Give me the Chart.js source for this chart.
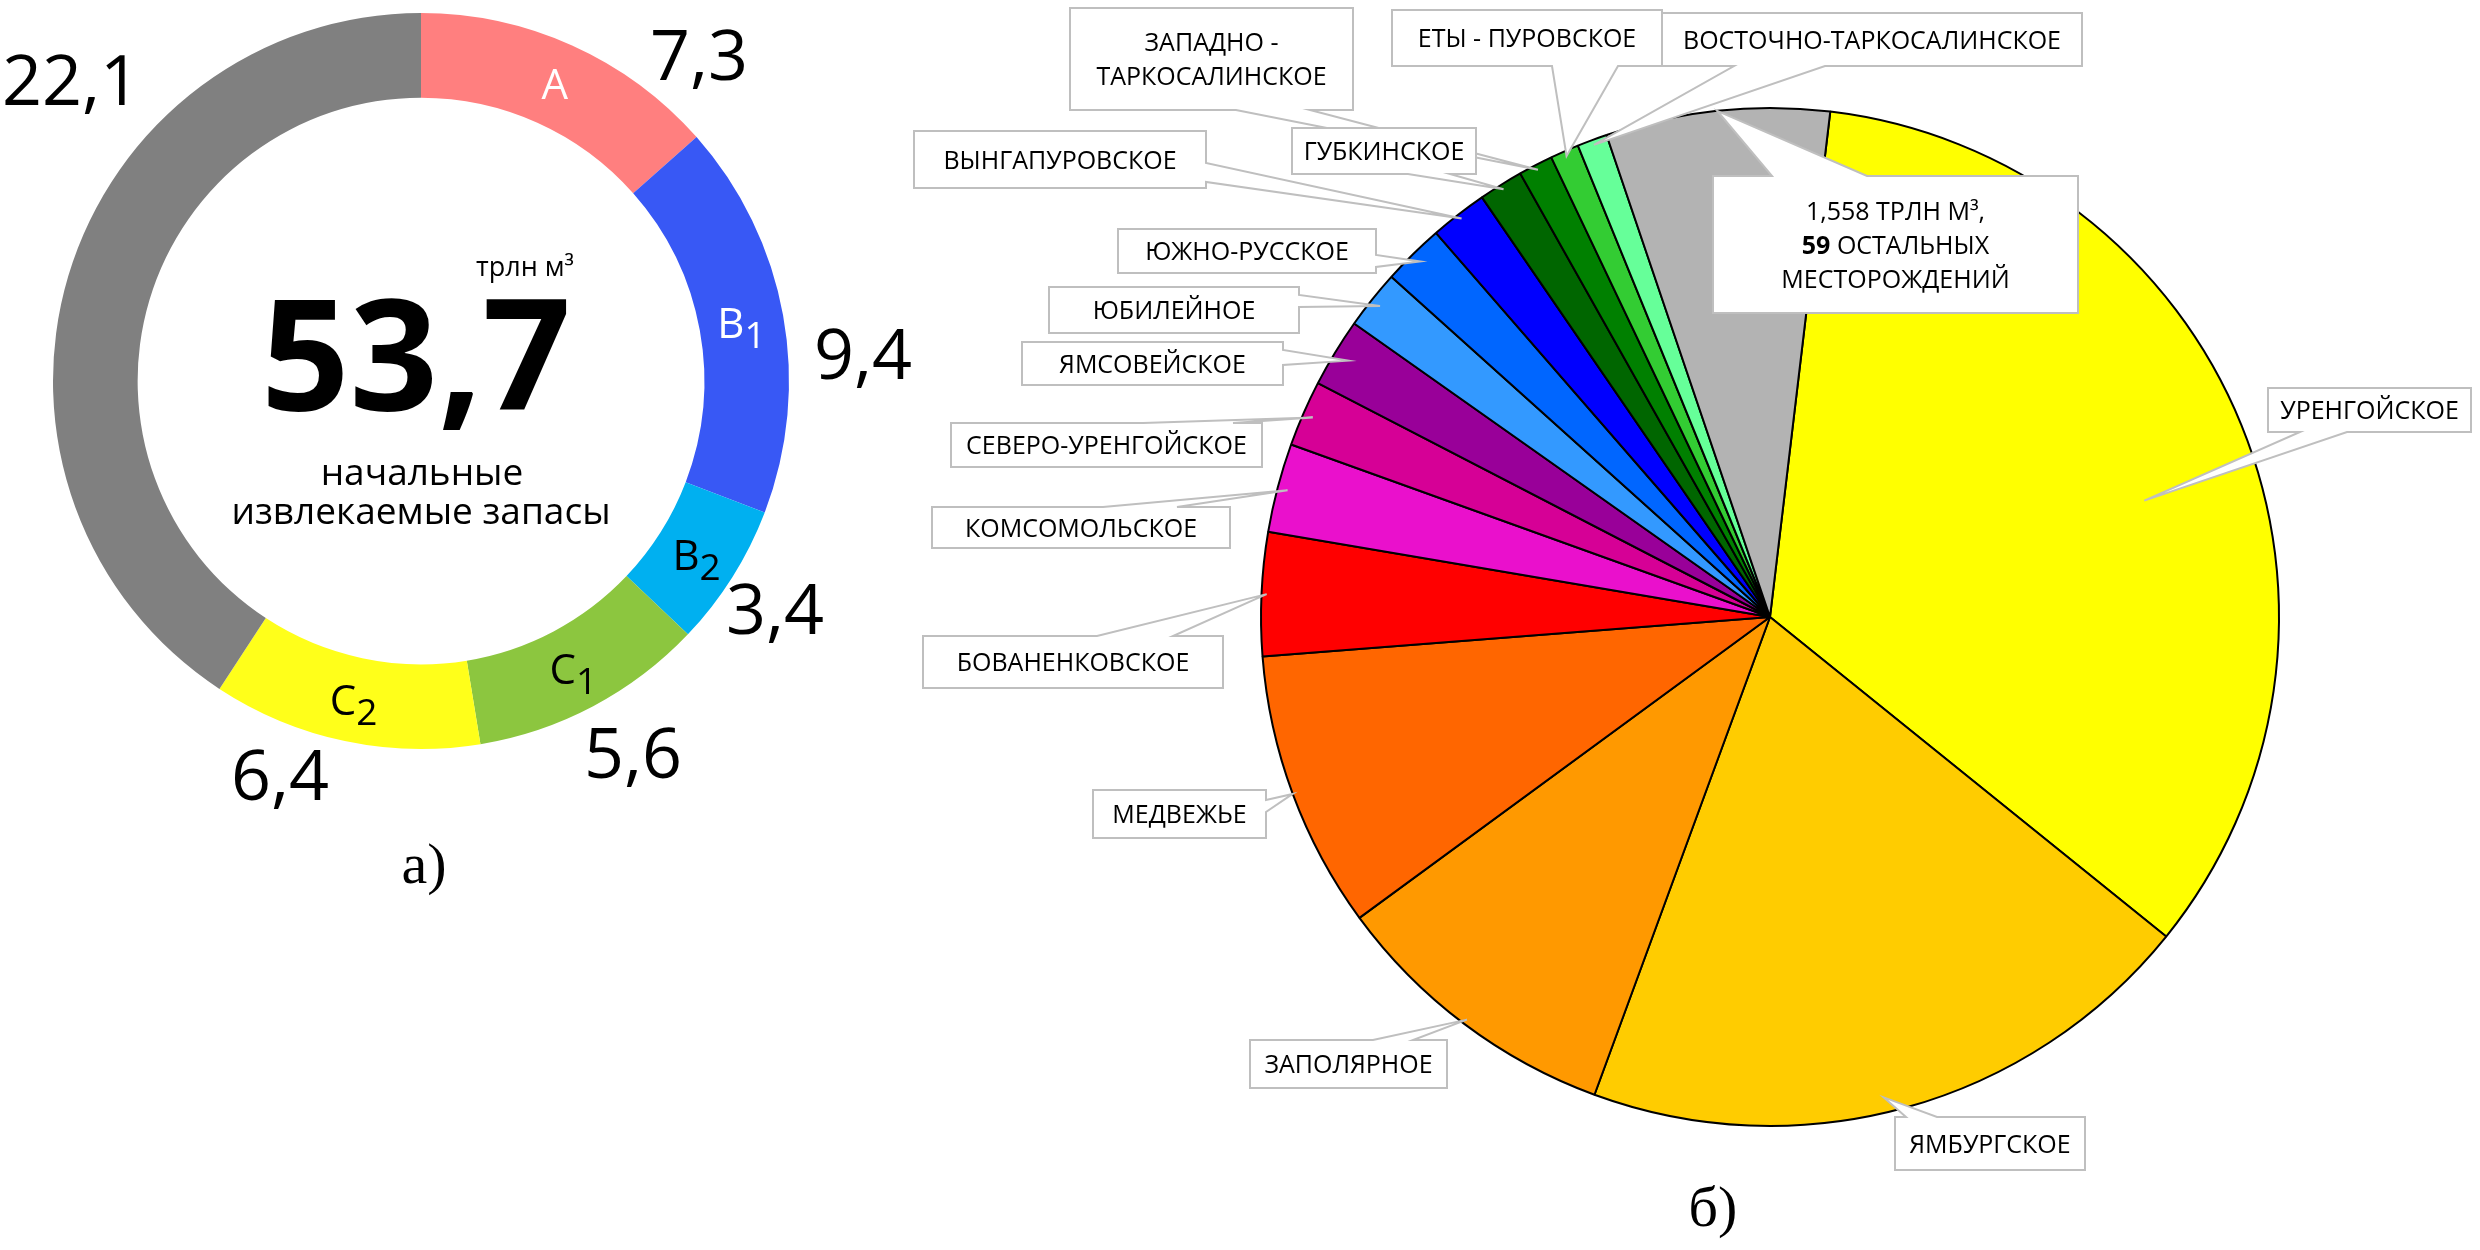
<!DOCTYPE html>
<html>
<head>
<meta charset="utf-8">
<script src="https://cdn.jsdelivr.net/npm/chart.js@4.4.0/dist/chart.umd.min.js"></script>
<style>
html, body { margin: 0; padding: 0; background: #fff; }
body { width: 2480px; height: 1250px; position: relative; overflow: hidden; }
#ring { position: absolute; left: 0; top: 0; }
#fields { position: absolute; left: 900px; top: 0; }
</style>
</head>
<body>
<canvas id="ring" width="1000" height="920"></canvas>
<canvas id="fields" width="1580" height="1250"></canvas>
<script>
// а) categories of initial recoverable reserves, трлн м³
const ringCats = ['A', 'B1', 'B2', 'C1', 'C2', ''];
const ringValues = [7.3, 9.4, 3.4, 5.6, 6.4, 22.1];
const ringTotal = '53,7';

// б) reserves by field, трлн м³
const fieldNames = [
    'УРЕНГОЙСКОЕ', 'ЯМБУРГСКОЕ', 'ЗАПОЛЯРНОЕ', 'МЕДВЕЖЬЕ', 'БОВАНЕНКОВСКОЕ',
    'КОМСОМОЛЬСКОЕ', 'СЕВЕРО-УРЕНГОЙСКОЕ', 'ЯМСОВЕЙСКОЕ', 'ЮБИЛЕЙНОЕ', 'ЮЖНО-РУССКОЕ',
    'ВЫНГАПУРОВСКОЕ', 'ГУБКИНСКОЕ', 'ЗАПАДНО -\nТАРКОСАЛИНСКОЕ', 'ЕТЫ - ПУРОВСКОЕ',
    'ВОСТОЧНО-ТАРКОСАЛИНСКОЕ', 'others'
];
const fieldValues = [7.45, 4.35, 2.05, 1.94, 0.86, 0.62, 0.46, 0.48, 0.41, 0.43, 0.40, 0.31, 0.24, 0.20, 0.21, 1.558];
const othersCount = 59;

const fmt = v => String(v).replace('.', ',');

const ringColors = ['#FF7F7F', '#3858F5', '#00B0F0', '#8CC63F', '#FFFF1A', '#808080'];
const ringInk = ['#fff', '#fff', '#000', '#000', '#000', '#000'];
// where the outer value numbers sit (centre x, baseline y)
const ringValuePos = [[699, 80], [863, 379], [775, 634], [633, 778], [280, 800], [71, 105]];

const fieldColors = ['#FFFF00', '#FFCC00', '#FF9900', '#FF6600', '#FF0000', '#EA10CC', '#D60096', '#990099',
    '#3399FF', '#0066FF', '#0000FF', '#006600', '#008000', '#33CC33', '#66FF99', '#B3B3B3'];

// callout boxes, page coordinates: box [x, y, w, h], wedge base on a side, tip at fraction of slice angle / radius
const calloutLayout = [
    { box: [2268, 388, 203, 44], side: 'bottom', a: 2300, b: 2347, f: 0.54, r: 0.77 },
    { box: [1895, 1117, 190, 53], side: 'top', a: 1906, b: 1937, f: 0.53, r: 0.97 },
    { box: [1250, 1040, 197, 48], side: 'top', a: 1373, b: 1413, f: 0.5, r: 0.99 },
    { box: [1093, 790, 173, 48], side: 'right', a: 800, b: 812, f: 0.5, r: 1.0 },
    { box: [923, 636, 300, 52], side: 'top', a: 1097, b: 1173, f: 0.5, r: 0.99 },
    { box: [932, 507, 298, 41], side: 'top', a: 1103, b: 1177, f: 0.5, r: 0.98 },
    { box: [951, 423, 311, 44], side: 'top', a: 1143, b: 1233, f: 0.5, r: 0.98 },
    { box: [1022, 342, 261, 43], side: 'right', a: 350, b: 365, f: 0.5, r: 0.97 },
    { box: [1049, 287, 250, 46], side: 'right', a: 295, b: 307, f: 0.5, r: 0.98 },
    { box: [1118, 229, 258, 44], side: 'right', a: 255, b: 267, f: 0.5, r: 0.98 },
    { box: [914, 131, 292, 57], side: 'right', a: 163, b: 182, f: 0.5, r: 0.99 },
    { box: [1292, 128, 184, 46], side: 'bottom', a: 1408, b: 1450, f: 0.5, r: 0.99 },
    { box: [1070, 8, 283, 102], side: 'bottom', a: 1236, b: 1310, f: 0.5, r: 0.99 },
    { box: [1392, 10, 270, 56], side: 'bottom', a: 1552, b: 1618, f: 0.5, r: 0.99 },
    { box: [1662, 13, 420, 53], side: 'bottom', a: 1734, b: 1825, f: 0.5, r: 0.99 },
    { box: [1713, 176, 365, 137], side: 'top', a: 1772, b: 1867, f: 0.5, r: 1.0 }
];
const fieldsLeft = 900;

const SANS = '"Open Sans", "DejaVu Sans", sans-serif';

function drawRich(ctx, text, cx, y, size) {
    const parts = text.split('**');
    let total = 0;
    parts.forEach((p, k) => {
        ctx.font = (k % 2 ? 'bold ' : '') + size + 'px ' + SANS;
        total += ctx.measureText(p).width;
    });
    let x = cx - total / 2;
    ctx.textAlign = 'left';
    parts.forEach((p, k) => {
        ctx.font = (k % 2 ? 'bold ' : '') + size + 'px ' + SANS;
        ctx.fillText(p, x, y);
        x += ctx.measureText(p).width;
    });
}

const ringText = {
    id: 'ringText',
    afterDraw(chart) {
        const ctx = chart.ctx;
        const arcs = chart.getDatasetMeta(0).data;
        ctx.save();
        ctx.textBaseline = 'alphabetic';

        // category names in the ring
        arcs.forEach((arc, i) => {
            const name = ringCats[i];
            if (!name) return;
            const p = arc.tooltipPosition();
            const main = name[0], sub = name.slice(1);
            ctx.font = '42px ' + SANS;
            const w1 = ctx.measureText(main).width;
            ctx.font = '37px ' + SANS;
            const w2 = sub ? ctx.measureText(sub).width : 0;
            const x0 = p.x - (w1 + w2) / 2;
            const base = p.y + 15;
            ctx.fillStyle = ringInk[i];
            ctx.textAlign = 'left';
            ctx.font = '42px ' + SANS;
            ctx.fillText(main, x0, base);
            if (sub) {
                ctx.font = '37px ' + SANS;
                ctx.fillText(sub, x0 + w1, base + 10);
            }
        });

        // values around the ring
        ctx.fillStyle = '#000';
        ctx.textAlign = 'center';
        ctx.font = '70px ' + SANS;
        ringValues.forEach((v, i) => {
            const [x, y] = ringValuePos[i];
            ctx.fillText(fmt(v), x, y);
        });

        // centre
        ctx.font = '27px ' + SANS;
        ctx.fillText('трлн м³', 525, 276);
        ctx.font = 'bold 155px ' + SANS;
        ctx.fillText(ringTotal, 416, 410);
        ctx.font = '37px ' + SANS;
        ctx.fillText('начальные', 422, 485);
        ctx.fillText('извлекаемые запасы', 421, 524);

        ctx.font = '58px "Liberation Serif", "Times New Roman", serif';
        ctx.fillText('а)', 424, 883);
        ctx.restore();
    }
};

function calloutPath(ctx, x, y, w, h, c, tip, ox) {
    const a = c.side === 'top' || c.side === 'bottom' ? c.a - ox : c.a;
    const b = c.side === 'top' || c.side === 'bottom' ? c.b - ox : c.b;
    ctx.beginPath();
    ctx.moveTo(x, y);
    if (c.side === 'top') { ctx.lineTo(a, y); ctx.lineTo(tip.x, tip.y); ctx.lineTo(b, y); }
    ctx.lineTo(x + w, y);
    if (c.side === 'right') { ctx.lineTo(x + w, a); ctx.lineTo(tip.x, tip.y); ctx.lineTo(x + w, b); }
    ctx.lineTo(x + w, y + h);
    if (c.side === 'bottom') { ctx.lineTo(b, y + h); ctx.lineTo(tip.x, tip.y); ctx.lineTo(a, y + h); }
    ctx.lineTo(x, y + h);
    if (c.side === 'left') { ctx.lineTo(x, b); ctx.lineTo(tip.x, tip.y); ctx.lineTo(x, a); }
    ctx.closePath();
}

const callouts = {
    id: 'callouts',
    afterDraw(chart) {
        const ctx = chart.ctx;
        const arcs = chart.getDatasetMeta(0).data;
        ctx.save();
        ctx.textBaseline = 'alphabetic';
        for (let i = arcs.length - 1; i >= 0; i--) {
            const c = calloutLayout[i];
            const p = arcs[i].getProps(['x', 'y', 'startAngle', 'endAngle', 'outerRadius'], true);
            const ang = p.startAngle + (p.endAngle - p.startAngle) * c.f;
            const tip = { x: p.x + Math.cos(ang) * p.outerRadius * c.r, y: p.y + Math.sin(ang) * p.outerRadius * c.r };
            const [bx, by, bw, bh] = [c.box[0] - fieldsLeft, c.box[1], c.box[2], c.box[3]];

            calloutPath(ctx, bx, by, bw, bh, c, tip, fieldsLeft);
            ctx.fillStyle = '#fff';
            ctx.fill();
            ctx.strokeStyle = '#BFBFBF';
            ctx.lineWidth = 2;
            ctx.lineJoin = 'miter';
            ctx.stroke();

            const text = fieldNames[i] === 'others'
                ? fmt(fieldValues[i]) + ' ТРЛН М³,\n**' + othersCount + '** ОСТАЛЬНЫХ\nМЕСТОРОЖДЕНИЙ'
                : fieldNames[i];
            const lines = text.split('\n');
            const lh = 34;
            const first = by + bh / 2 - (lines.length - 1) * lh / 2 + 9;
            ctx.fillStyle = '#000';
            lines.forEach((ln, k) => drawRich(ctx, ln, bx + bw / 2, first + k * lh, 25));
        }
        ctx.textAlign = 'center';
        ctx.font = '58px "Liberation Serif", "Times New Roman", serif';
        ctx.fillText('б)', 1713 - fieldsLeft, 1226);
        ctx.restore();
    }
};

Chart.defaults.animation = false;

new Chart(document.getElementById('ring'), {
    type: 'doughnut',
    data: {
        labels: ringCats,
        datasets: [{
            data: ringValues,
            backgroundColor: ringColors,
            borderWidth: 0,
            hoverOffset: 0
        }]
    },
    options: {
        responsive: false,
        cutout: '77%',
        layout: { padding: { left: 53, top: 13, right: 211, bottom: 171 } },
        plugins: { legend: { display: false }, tooltip: { enabled: false } },
        events: []
    },
    plugins: [ringText]
});

new Chart(document.getElementById('fields'), {
    type: 'pie',
    data: {
        labels: fieldNames,
        datasets: [{
            data: fieldValues,
            backgroundColor: fieldColors,
            borderColor: '#000',
            borderWidth: 2,
            hoverOffset: 0
        }]
    },
    options: {
        responsive: false,
        rotation: 6.8,
        layout: { padding: { left: 360, top: 107, right: 200, bottom: 123 } },
        plugins: { legend: { display: false }, tooltip: { enabled: false } },
        events: []
    },
    plugins: [callouts]
});
</script>
</body>
</html>
